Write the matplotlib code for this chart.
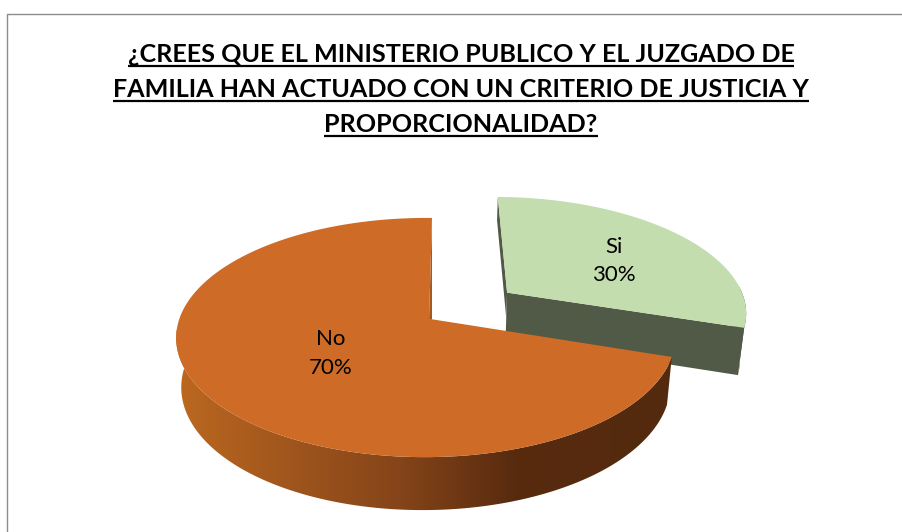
import numpy as np
import matplotlib
matplotlib.use("Agg")
import matplotlib.pyplot as plt
from matplotlib.patches import Polygon
from matplotlib.colors import LinearSegmentedColormap

labels = ["Si", "No"]
values = [30, 70]
top_colors = ["#C3DDAF", "#CE6B27"]
wall_color = "#505A47"
cut_color = "#A65A20"
title_lines = ["¿CREES QUE EL MINISTERIO PUBLICO Y EL JUZGADO DE",
               "FAMILIA HAN ACTUADO CON UN CRITERIO DE JUSTICIA Y",
               "PROPORCIONALIDAD?"]

CX, CY, RX, RY, K, D0, S = 432, 320, 246.7, 117, 0.1465, 47.5, 0.98
KX_NO, KX_SI = 0.025, 0.01
SI_LIFT = 1.5
EXPLODE = 0.39


def project(u, v, z=0.0, kx=KX_NO, lift=0.0):
    w = 1 - K * v + kx * u
    x = RX * u / w
    y = RY * v / w
    scale = 1 + (S - 1) * z
    return np.c_[CX + x * scale, CY - lift + y * scale + z * D0 / w]


def sector(a0, a1, off=0.0, n=300):
    """Outline of a slice, angles in degrees clockwise from 12 o'clock."""
    t = np.radians(np.linspace(a0, a1, n))
    m = np.radians((a0 + a1) / 2)
    ou, ov = off * np.sin(m), -off * np.cos(m)
    return ou, ov, ou + np.sin(t), ov - np.cos(t)


fig = plt.figure(figsize=(9.02, 5.32), dpi=100)
ax = fig.add_axes([0, 0, 1, 1])
ax.axis("off")

# chart frame
ax.plot([6.5, 6.5, 902], [532, 13.5, 13.5], color="#8C8C8C", lw=1.0)

shares = np.array(values, float) / sum(values)
angles = np.concatenate([[0], np.cumsum(shares) * 360])

# Si slice (exploded), drawn first
si = dict(kx=KX_SI, lift=SI_LIFT)
ou, ov, us, vs = sector(angles[0], angles[1], EXPLODE)
cut_u, cut_v = np.r_[ou, us[-1]], np.r_[ov, vs[-1]]
back_u, back_v = np.r_[ou, us[0]], np.r_[ov, vs[0]]
for wall in (np.vstack([project(cut_u, cut_v, **si), project(cut_u, cut_v, 1, **si)[::-1]]),
             np.vstack([project(us[-60:], vs[-60:], **si), project(us[-60:], vs[-60:], 1, **si)[::-1]]),
             np.vstack([project(back_u, back_v, **si), project(back_u, back_v, 0.55, **si)[::-1]])):
    ax.add_patch(Polygon(wall, fc=wall_color, ec="none", zorder=1))
ax.add_patch(Polygon(project(np.r_[ou, us], np.r_[ov, vs], **si), fc=top_colors[0], ec="none", zorder=2))

# No slice: sliver of the cut face, shaded outer wall, then the top
ou, ov, us, vs = sector(angles[1], angles[2], 0.0, 500)
apex_u, apex_v = -0.012, -0.01
ax.add_patch(Polygon(project(np.array([us[-1], 0.0, apex_u]), np.array([vs[-1], 0.0, apex_v])),
                     fc=cut_color, ec="none", zorder=3))
front = vs > -0.3
wall = Polygon(np.vstack([project(us[front], vs[front]), project(us[front], vs[front], 1)[::-1]]),
               fc="none", ec="none", transform=ax.transData)
ax.add_patch(wall)
shade = LinearSegmentedColormap.from_list(
    "wall", [(0.0, "#BC6820"), (0.45, "#854419"), (0.68, "#582B0F"), (1.0, "#532A0E")])
grad = ax.imshow(np.linspace(0, 1, 512)[None, :], cmap=shade, extent=(175, 675, 520, 330),
                 aspect="auto", zorder=3, interpolation="bilinear")
grad.set_clip_path(wall)
ax.add_patch(Polygon(project(np.r_[apex_u, us], np.r_[apex_v, vs]), fc=top_colors[1], ec="none", zorder=4))

ax.set_xlim(0, 902)
ax.set_ylim(532, 0)

# Data labels
font = dict(family="Lato", fontsize=16, color="black", ha="center", va="center", zorder=6)
ax.text(614, 247, labels[0], **font)
ax.text(614, 275, f"{values[0]}%", **font)
ax.text(331, 339, labels[1], **font)
ax.text(331, 368, f"{values[1]}%", **font)

# Title with underlines
fig.canvas.draw()
r = fig.canvas.get_renderer()
for line, base in zip(title_lines, [62, 97, 132]):
    t = ax.text(461, base, line, family="Lato", weight="bold", fontsize=18.1, color="black",
                ha="center", va="baseline", zorder=6)
    bb = t.get_window_extent(r)
    ax.plot([bb.x0, bb.x1], [base + 4, base + 4], color="black", lw=1.6,
            solid_capstyle="butt", zorder=6)

fig.savefig("out.png", dpi=100)
